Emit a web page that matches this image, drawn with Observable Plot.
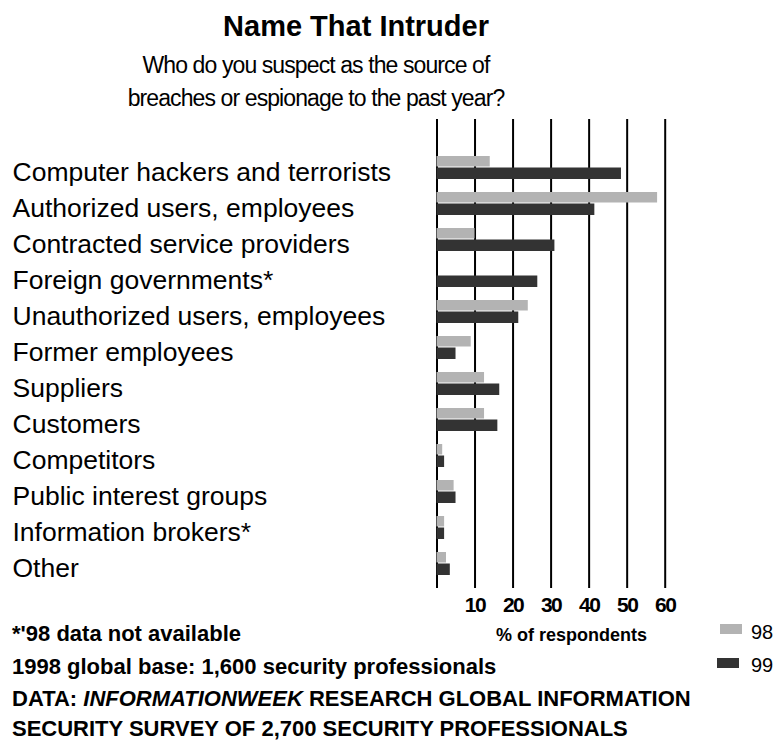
<!DOCTYPE html>
<html>
<head>
<meta charset="utf-8">
<script src="https://cdn.jsdelivr.net/npm/d3@7"></script>
<script src="https://cdn.jsdelivr.net/npm/@observablehq/plot@0.6"></script>
<style>
  body { margin: 0; background: #fff; font-family: "Liberation Sans", Arial, sans-serif; }
  #wrap { position: relative; width: 773px; height: 741px; overflow: hidden; background: #fff; }
  .t { position: absolute; white-space: nowrap; line-height: 1; color: #000; }
  .b { font-weight: bold; }
  .f { line-height: 0.8; }
  .sw { position: absolute; }
  g[aria-label="x-axis tick label"] text { letter-spacing: -1.5px; }
</style>
</head>
<body>
<div id="wrap"></div>
<script>
// ---- data ----
const categories = [
  "Computer hackers and terrorists",
  "Authorized users, employees",
  "Contracted service providers",
  "Foreign governments*",
  "Unauthorized users, employees",
  "Former employees",
  "Suppliers",
  "Customers",
  "Competitors",
  "Public interest groups",
  "Information brokers*",
  "Other"
];
const values98 = [14, 58, 10, null, 24, 9, 12.5, 12.5, 1.5, 4.5, 2, 2.5];
const values99 = [48.5, 41.5, 31, 26.5, 21.5, 5, 16.5, 16, 2, 5, 2, 3.5];
const ticks = [10, 20, 30, 40, 50, 60];
const years = ["98", "99"];
const colors = ["#b3b3b3", "#333333"];

const title = "Name That Intruder";
const subtitleLines = ["Who do you suspect as the source of", "breaches or espionage to the past year?"];
const xLabel = "% of respondents";
const footerLines = [
  "*'98 data not available",
  "1998 global base: 1,600 security professionals",
  "DATA: <i>INFORMATIONWEEK</i> RESEARCH GLOBAL INFORMATION",
  "SECURITY SURVEY OF 2,700 SECURITY PROFESSIONALS"
];

// ---- build ----
const rows = categories.map((c, i) => ({category: c, v98: values98[i], v99: values99[i]}));
const wrap = document.getElementById("wrap");

function addText(html, style, cls) {
  const d = document.createElement("div");
  d.className = "t " + (cls || "");
  d.innerHTML = html;
  Object.assign(d.style, style);
  wrap.appendChild(d);
  return d;
}

addText(title, {left: "0px", width: "712px", textAlign: "center", top: "11.5px", fontSize: "29px"}, "b");
addText(subtitleLines[0], {left: "0px", width: "632px", textAlign: "center", top: "53.5px", fontSize: "23px", letterSpacing: "-0.9px"});
addText(subtitleLines[1], {left: "0px", width: "632px", textAlign: "center", top: "86.5px", fontSize: "23px", letterSpacing: "-0.9px"});

const chart = Plot.plot({
  width: 773,
  height: 540,
  marginTop: 9,
  marginBottom: 62,
  marginLeft: 436.5,
  marginRight: 108.3,
  style: {fontFamily: "'Liberation Sans', Arial, sans-serif", background: "transparent", overflow: "visible", color: "#000"},
  x: {domain: [0, 60]},
  y: {domain: categories, range: [27.8, 484], padding: 0.35, axis: null},
  marks: [
    Plot.ruleX([0, ...ticks], {stroke: "#000", strokeWidth: 2}),
    Plot.barX(rows.filter(d => d.v98 != null), {x: "v98", y: "category", fill: colors[0], insetBottom: 12.5}),
    Plot.barX(rows, {x: "v99", y: "category", fill: colors[1], insetTop: 11.5}),
    Plot.axisX({ticks, tickSize: 0, tickPadding: 8.5, fontSize: 21, fontWeight: "bold", label: null, tickFormat: d => String(d)}),
    Plot.text(categories, {y: d => d, text: d => d, frameAnchor: "left", textAnchor: "start", lineAnchor: "middle", dx: -424.5, dy: 5, fontSize: 26.5, fill: "#000"}),
    Plot.text([xLabel], {text: d => d, frameAnchor: "bottom", lineAnchor: "middle", dx: 20.5, dy: 47, fontSize: 18, fontWeight: "bold", fill: "#000"})
  ]
});
chart.style.position = "absolute";
chart.style.left = "0px";
chart.style.top = "110px";
wrap.appendChild(chart);

// footer
const footerTops = [624.6, 658.1, 689.6, 719.6];
footerLines.forEach((line, i) => {
  addText(line, {left: "12px", top: footerTops[i] + "px", fontSize: "22px"}, "b f");
});

// legend
const legendPos = [{sx: 720, sy: 624, tx: 751, ty: 622}, {sx: 717, sy: 658, tx: 751, ty: 655}];
years.forEach((y, i) => {
  const s = document.createElement("div");
  s.className = "sw";
  Object.assign(s.style, {left: legendPos[i].sx + "px", top: legendPos[i].sy + "px", width: "22px", height: "10px", background: colors[i]});
  wrap.appendChild(s);
  addText(y, {left: legendPos[i].tx + "px", top: legendPos[i].ty + "px", fontSize: "20px"});
});
</script>
</body>
</html>
